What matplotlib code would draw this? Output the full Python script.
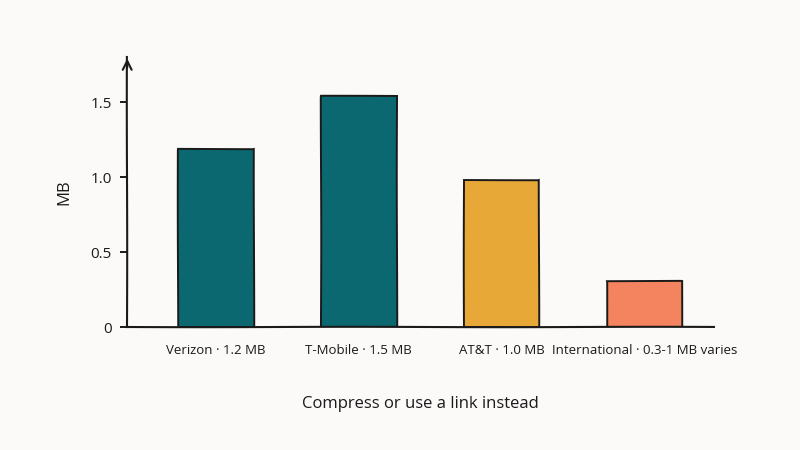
import matplotlib.pyplot as plt

carriers = ["Verizon · 1.2 MB", "T-Mobile · 1.5 MB", "AT&T · 1.0 MB",
            "International · 0.3-1 MB varies"]
limits_mb = [1.19, 1.54, 0.98, 0.31]
bar_colors = ["#0B6870", "#0B6870", "#E8A838", "#F4845F"]
y_ticks = [0, 0.5, 1.0, 1.5]
y_tick_labels = ["0", "0.5", "1.0", "1.5"]

plt.rcParams['font.family'] = ['Open Sans', 'DejaVu Sans']
bg = "#FCF9F9"
ink = "#1a1a1a"

fig = plt.figure(figsize=(8, 4.5), dpi=100, facecolor=bg)
ax = fig.add_axes([0.159, 0.273, 0.734, 0.6])
ax.set_facecolor(bg)

x = list(range(len(carriers)))
bars = ax.bar(x, limits_mb, width=0.53, color=bar_colors, edgecolor=ink,
              linewidth=1.4)
for b in bars:
    b.set_sketch_params(0.25, 300, 1)

ax.set_xlim(-0.62, 3.49)
ax.set_ylim(0, 1.8)

for side in ["top", "right"]:
    ax.spines[side].set_visible(False)
for side in ["left", "bottom"]:
    ax.spines[side].set_linewidth(1.5)
    ax.spines[side].set_color(ink)
    ax.spines[side].set_sketch_params(0.2, 300, 1)

# arrow tip on y axis
ax.annotate("", xy=(0, 1.005), xytext=(0, 0.95), xycoords="axes fraction",
            arrowprops=dict(arrowstyle="->", lw=1.5, color=ink,
                            mutation_scale=16))

ax.set_yticks(y_ticks)
ax.set_yticklabels(y_tick_labels, fontsize=11)
ax.tick_params(axis="y", length=5, width=1.4, pad=6, colors=ink)
ax.set_xticks(x)
ax.set_xticklabels(carriers, fontsize=9.5)
ax.tick_params(axis="x", length=0, pad=12, colors=ink)

ax.set_ylabel("MB", fontsize=12, labelpad=13, color=ink)
ax.set_xlabel("Compress or use a link instead", fontsize=12, labelpad=28,
              color=ink)

fig.savefig("out.png", dpi=100, facecolor=bg)
